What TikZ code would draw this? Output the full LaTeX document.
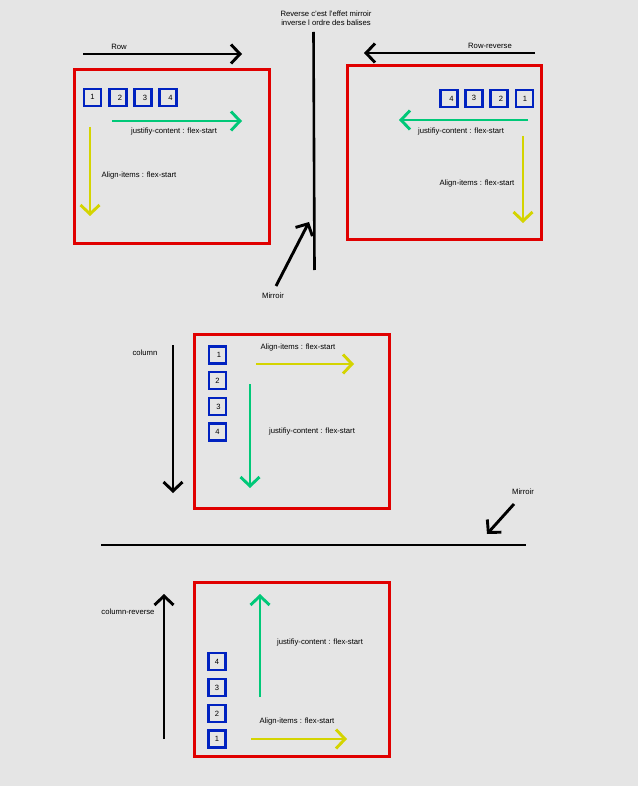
\documentclass[tikz,border=0pt]{standalone}
\usepackage{fontspec}
\setmainfont{Liberation Sans}
\usetikzlibrary{arrows.meta}
\definecolor{bg}{HTML}{E5E5E5}
\definecolor{boxred}{HTML}{E00000}
\definecolor{itemblue}{HTML}{0022C0}
\definecolor{flexgreen}{HTML}{00C878}
\definecolor{flexyellow}{HTML}{D4D400}
\tikzset{
  redbox/.style={draw=boxred,line width=2.8pt,anchor=north west},
  item/.style={draw=itemblue,line width=2.8pt,minimum size=17pt,inner sep=0pt,font=\fontsize{7.6}{8}\selectfont},
  lbl/.style={font=\fontsize{7.7}{9}\selectfont,inner sep=0pt},
  arr/.style={line width=2.9pt,-{Straight Barb[length=9pt,width=19pt]}},
  blackarr/.style={arr,black},
  greenarr/.style={arr,flexgreen},
  yellowarr/.style={arr,flexyellow},
}
\begin{document}
\begin{tikzpicture}[x=1pt,y=-1pt]
\fill[bg] (0,0) rectangle (638,786);
\useasboundingbox (0,0) rectangle (638,786);

% ---------- top left : row ----------
\coordinate (rowA) at (83,54); \coordinate (rowB) at (242,54);
\draw[blackarr] (rowA) -- (rowB);
\node[lbl] (rowT) at (119,47) {Row};
\node[redbox,minimum width=195.2pt,minimum height=174.2pt] (boxTL) at (73,68) {};
\node[item] (tl1) at (92.5,97.5) {\raisebox{2pt}{1}};
\node[item] (tl2) at (118,97.5) {\hspace{4pt}\raisebox{-2pt}{2}};
\node[item] (tl3) at (143,97.5) {\hspace{4pt}\raisebox{-2pt}{3}};
\node[item] (tl4) at (168,97.5) {\hspace{5pt}\raisebox{-2pt}{4}};
\coordinate (tlgA) at (112,121); \coordinate (tlgB) at (242,121);
\draw[greenarr] (tlgA) -- (tlgB);
\node[lbl] (tlgT) at (174,132) {justifiy-content : flex-start};
\coordinate (tlyA) at (90,127); \coordinate (tlyB) at (90,216);
\draw[yellowarr] (tlyA) -- (tlyB);
\node[lbl] (tlyT) at (139,176) {Align-items : flex-start};

% ---------- mirror line (vertical) ----------
\node[lbl,align=center] (revT) at (326,18) {Reverse c'est l'effet mirroir\\inverse l ordre des balises};
\coordinate (vA) at (313.5,32); \coordinate (vB) at (314.5,270);
\draw[line width=2.6pt] (vA) -- (vB);
\coordinate (m1A) at (276,286); \coordinate (m1B) at (309,222);
\draw[blackarr] (m1A) -- (m1B);
\node[lbl] (m1T) at (273,296) {Mirroir};

% ---------- top right : row-reverse ----------
\coordinate (rrA) at (535,53); \coordinate (rrB) at (364,53);
\draw[blackarr] (rrA) -- (rrB);
\node[lbl] (rrT) at (490,46) {Row-reverse};
\node[redbox,minimum width=194.2pt,minimum height=174.2pt] (boxTR) at (346,64) {};
\node[item] (tr4) at (449,98.5) {\hspace{5pt}\raisebox{-2pt}{4}};
\node[item] (tr3) at (474,98.5) {\raisebox{1pt}{3}};
\node[item] (tr2) at (499,98.5) {\hspace{4pt}\raisebox{-2pt}{2}};
\node[item] (tr1) at (524.5,98.5) {\hspace{1pt}\raisebox{-1pt}{1}};
\coordinate (trgA) at (528,120); \coordinate (trgB) at (399,120);
\draw[greenarr] (trgA) -- (trgB);
\node[lbl] (trgT) at (461,132) {justifiy-content : flex-start};
\coordinate (tryA) at (523,136); \coordinate (tryB) at (523,223);
\draw[yellowarr] (tryA) -- (tryB);
\node[lbl] (tryT) at (477,184) {Align-items : flex-start};

% ---------- middle : column ----------
\node[lbl] (colT) at (145,353) {column};
\coordinate (colA) at (173,345); \coordinate (colB) at (173,493);
\draw[blackarr] (colA) -- (colB);
\node[redbox,minimum width=195.2pt,minimum height=174.2pt] (boxM) at (193,333) {};
\node[item] (c1) at (217.5,355) {\hspace{3pt}\raisebox{-1pt}{1}};
\node[item] (c2) at (217.5,380.5) {2};
\node[item] (c3) at (217.5,406.5) {\hspace{2pt}\raisebox{-1pt}{3}};
\node[item] (c4) at (217.5,432) {\raisebox{-1pt}{4}};
\coordinate (cyA) at (256,364); \coordinate (cyB) at (354,364);
\draw[yellowarr] (cyA) -- (cyB);
\node[lbl] (cyT) at (298,348) {Align-items : flex-start};
\coordinate (cgA) at (250,384); \coordinate (cgB) at (250,488);
\draw[greenarr] (cgA) -- (cgB);
\node[lbl] (cgT) at (312,432) {justifiy-content : flex-start};

% ---------- mirror line (horizontal) ----------
\coordinate (hA) at (101,545); \coordinate (hB) at (526,545);
\draw[line width=2.6pt] (hA) -- (hB);
\coordinate (m2A) at (514,504); \coordinate (m2B) at (487,534);
\draw[blackarr] (m2A) -- (m2B);
\node[lbl] (m2T) at (523,492) {Mirroir};

% ---------- bottom : column-reverse ----------
\node[lbl] (crT) at (128,612) {column-reverse};
\coordinate (crA) at (164,739); \coordinate (crB) at (164,594);
\draw[blackarr] (crA) -- (crB);
\node[redbox,minimum width=195.2pt,minimum height=174.2pt] (boxB) at (193,581) {};
\node[item] (b4) at (217,661.5) {4};
\node[item] (b3) at (217,687.5) {3};
\node[item] (b2) at (217,713.5) {2};
\node[item] (b1) at (217,739) {1};
\coordinate (bgA) at (260,697); \coordinate (bgB) at (260,594);
\draw[greenarr] (bgA) -- (bgB);
\node[lbl] (bgT) at (320,643) {justifiy-content : flex-start};
\coordinate (byA) at (251,739); \coordinate (byB) at (347,739);
\draw[yellowarr] (byA) -- (byB);
\node[lbl] (byT) at (297,722) {Align-items : flex-start};
\end{tikzpicture}
\end{document}
